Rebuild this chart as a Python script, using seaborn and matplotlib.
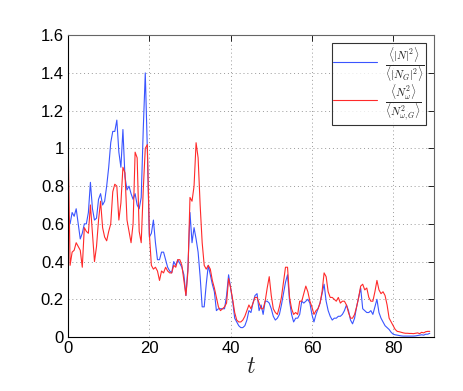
import numpy as np
import pandas as pd
import matplotlib
matplotlib.use('Agg')
import matplotlib.pyplot as plt
from matplotlib.ticker import FuncFormatter
import seaborn as sns

# time axis, sampled every 0.5
t = np.arange(0, 89.5, 0.5)

# <|N|^2> / <|N_G|^2>
ratio_N = [
    0.66, 0.6, 0.66, 0.64, 0.68, 0.6, 0.52, 0.55, 0.6, 0.6,
    0.66, 0.82, 0.68, 0.62, 0.63, 0.73, 0.76, 0.7, 0.72, 0.8,
    0.9, 1.03, 1.09, 1.09, 1.15, 0.98, 0.9, 1.1, 0.85, 0.78,
    0.8, 0.76, 0.73, 0.76, 0.7, 0.68, 0.74, 1.1, 1.4, 1.0,
    0.53,
    0.55, 0.62, 0.5, 0.41, 0.41, 0.45, 0.45, 0.41, 0.37, 0.35,
    0.34, 0.4, 0.38, 0.41, 0.39, 0.37, 0.33, 0.22, 0.37, 0.66,
    0.5, 0.58, 0.52, 0.45, 0.32, 0.16, 0.16, 0.28, 0.38, 0.33,
    0.28, 0.24, 0.14, 0.15, 0.15, 0.15, 0.15, 0.22, 0.33, 0.26,
    0.19, 0.1, 0.08, 0.06, 0.05, 0.05, 0.06, 0.09, 0.14, 0.13,
    0.18, 0.22, 0.23, 0.14, 0.17, 0.12, 0.19, 0.19, 0.18, 0.15,
    0.11, 0.09, 0.1, 0.12, 0.17, 0.23, 0.29, 0.33, 0.19, 0.12,
    0.08, 0.1, 0.1, 0.12, 0.19, 0.18, 0.19, 0.2, 0.18, 0.12,
    0.08, 0.12, 0.15, 0.18, 0.23, 0.28, 0.19, 0.14, 0.11, 0.09,
    0.1, 0.1, 0.11, 0.11, 0.12, 0.14, 0.17, 0.14, 0.09, 0.07,
    0.1, 0.16, 0.21, 0.26, 0.15, 0.14, 0.13, 0.13, 0.14, 0.12,
    0.16, 0.2, 0.13, 0.1, 0.08, 0.06, 0.05, 0.04, 0.025, 0.015,
    0.012, 0.01, 0.008, 0.006, 0.005, 0.005, 0.005, 0.005, 0.005, 0.005,
    0.006, 0.008, 0.01, 0.012, 0.01, 0.015, 0.015, 0.02,
]

# <N_w^2> / <N_{w,G}^2>
ratio_Nw = [
    1.07, 0.38, 0.45, 0.46, 0.5, 0.48, 0.46, 0.37, 0.58, 0.56,
    0.55, 0.7, 0.55, 0.4, 0.48, 0.62, 0.72, 0.58, 0.53, 0.51,
    0.56, 0.6, 0.77, 0.81, 0.8, 0.62, 0.71, 0.9, 0.87, 0.62,
    0.56, 0.5, 0.6, 0.98, 0.95, 0.56, 0.5, 0.78, 1.0, 1.02,
    0.55,
    0.38, 0.36, 0.37, 0.35, 0.3, 0.35, 0.34, 0.37, 0.35, 0.34,
    0.34, 0.38, 0.37, 0.41, 0.41, 0.38, 0.3, 0.22, 0.35, 0.74,
    0.72, 0.8, 1.03, 0.95, 0.7, 0.5, 0.38, 0.36, 0.38, 0.36,
    0.3, 0.26, 0.21, 0.16, 0.14, 0.15, 0.16, 0.18, 0.31, 0.26,
    0.2, 0.13, 0.09, 0.08, 0.08, 0.09, 0.11, 0.14, 0.17, 0.15,
    0.18, 0.21, 0.21, 0.18, 0.15, 0.15, 0.19, 0.26, 0.32, 0.22,
    0.15, 0.13, 0.12, 0.16, 0.21, 0.29, 0.37, 0.37, 0.21, 0.15,
    0.12, 0.13, 0.12, 0.19, 0.19, 0.23, 0.27, 0.24, 0.19, 0.16,
    0.12, 0.14, 0.15, 0.18, 0.24, 0.34, 0.32, 0.24, 0.21, 0.21,
    0.2, 0.19, 0.21, 0.18, 0.19, 0.19, 0.17, 0.13, 0.1, 0.1,
    0.12, 0.16, 0.21, 0.27, 0.28, 0.25, 0.26, 0.21, 0.19, 0.19,
    0.24, 0.3, 0.25, 0.23, 0.24, 0.22, 0.17, 0.1, 0.08, 0.06,
    0.04, 0.03, 0.028, 0.025, 0.022, 0.02, 0.02, 0.019, 0.019, 0.018,
    0.02, 0.022, 0.018, 0.025, 0.022, 0.028, 0.03, 0.03,
]

label_N = r'$\frac{\langle |N|^2\rangle}{\langle |N_G|^2\rangle}$'
label_Nw = r'$\frac{\langle N_\omega^2\rangle}{\langle N_{\omega,G}^2\rangle}$'

df = pd.concat([
    pd.DataFrame({'t': t, 'value': ratio_N, 'series': label_N}),
    pd.DataFrame({'t': t, 'value': ratio_Nw, 'series': label_Nw}),
])

sns.set_style('white')
plt.rcParams['font.family'] = ['Liberation Sans', 'DejaVu Sans']
plt.rcParams['mathtext.fontset'] = 'cm'

fig = plt.figure(figsize=(4.63, 3.91), dpi=100)
ax = fig.add_axes([0.147, 0.138, 0.79, 0.772])

sns.lineplot(data=df, x='t', y='value', hue='series', hue_order=[label_N, label_Nw],
             palette={label_N: '#3a55ff', label_Nw: '#ff2a2a'}, estimator=None,
             linewidth=0.8, ax=ax)

ax.set_xlim(0, 90)
ax.set_ylim(0, 1.6)
ax.set_xticks([0, 20, 40, 60, 80])
ax.set_yticks(np.arange(0, 1.61, 0.2))
ax.yaxis.set_major_formatter(FuncFormatter(lambda v, p: '%g' % round(v, 1)))
ax.tick_params(direction='in', length=4, width=0.6, labelsize=12, colors='black',
               top=True, right=True, pad=3)
ax.grid(True, linestyle=(0, (1, 3)), color='#999999', linewidth=0.7)
for side, sp in ax.spines.items():
    sp.set_linewidth(0.8)
    sp.set_color('black' if side in ('left', 'bottom') else '#666666')

ax.set_xlabel('$t$', fontsize=17, labelpad=0)
ax.set_ylabel('')

leg = ax.legend(loc='upper right', fontsize=11.5, frameon=True, fancybox=False,
                edgecolor='black', handlelength=2.7, borderaxespad=0.5,
                labelspacing=-0.1, borderpad=0.1, handletextpad=0.5)
leg.get_frame().set_linewidth(0.8)

fig.savefig('out.png', dpi=100, facecolor='white')
